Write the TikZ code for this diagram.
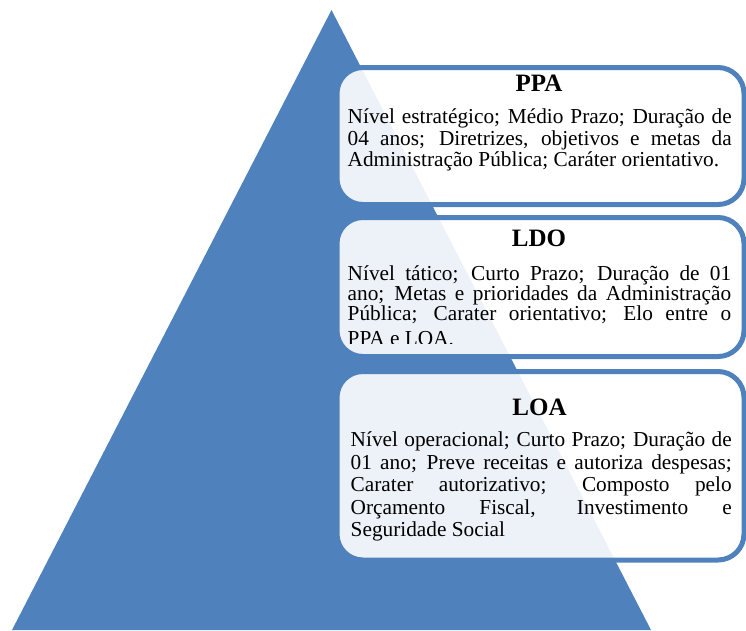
\documentclass[tikz,border=0pt]{standalone}
\usepackage{fontspec}
\setmainfont{Liberation Serif}
\definecolor{triblue}{HTML}{4F81BD}
\newcommand{\jline}[2][384pt]{\hbox to #1{#2}}
\newcommand{\lline}[1]{\hbox{#1}}
\tikzset{
  infobox/.style={draw=triblue, line width=5pt, fill=white, fill opacity=0.9, rounded corners=26pt},
  boxtitle/.style={anchor=base, inner sep=0pt, font=\bfseries\fontsize{25}{25}\selectfont},
  boxbody/.style={anchor=base west, inner sep=0pt, font=\fontsize{21.3}{21.7}\selectfont}
}
\begin{document}
\begin{tikzpicture}[x=1pt,y=-1pt]
\useasboundingbox (0,0) rectangle (746,630);
\fill[triblue] (331.5,10) -- (651,630) -- (12,630) -- cycle;
% boxes
\draw[infobox] (337,67.5) rectangle (744,204.5);
\draw[infobox] (337,217.5) rectangle (744,356.5);
\draw[infobox] (337,371.5) rectangle (744,560);
% PPA
\node[boxtitle] (ppaT) at (539,91.5) {PPA};
\node[boxbody] (ppaB) at (347.5,123.3) {\vtop{\hsize=384pt
\jline{Nível estratégico; Médio Prazo; Duração de}
\jline{04 anos; Diretrizes, objetivos e metas da}
\lline{Administração Pública; Caráter orientativo.}}};
% LDO
\node[boxtitle] (ldoT) at (539,246.7) {LDO};
\node[boxbody, font=\fontsize{21.3}{20.4}\selectfont] (ldoB) at (347.5,280) {\vtop{\hsize=384pt
\jline[383.5pt]{Nível tático; Curto Prazo; Duração de 01}
\jline[383.5pt]{ano; Metas e prioridades da Administração}
\jline[383.5pt]{Pública; Carater orientativo; Elo entre o}}};
\begin{scope}
\clip (337,325) rectangle (744,343);
\node[boxbody] (ldoE) at (347.5,345.5) {PPA e LOA.};
\end{scope}
% LOA
\node[boxtitle] (loaT) at (539.5,415) {LOA};
\node[boxbody, font=\fontsize{21.3}{22.5}\selectfont] (loaB) at (350.5,446.7) {\vtop{\hsize=381pt
\jline[381pt]{Nível operacional; Curto Prazo; Duração de}
\jline[381pt]{01 ano; Preve receitas e autoriza despesas;}
\jline[381pt]{Carater autorizativo; Composto pelo}
\jline[381pt]{Orçamento Fiscal, Investimento e}
\lline{Seguridade Social}}};
\end{tikzpicture}
\end{document}
